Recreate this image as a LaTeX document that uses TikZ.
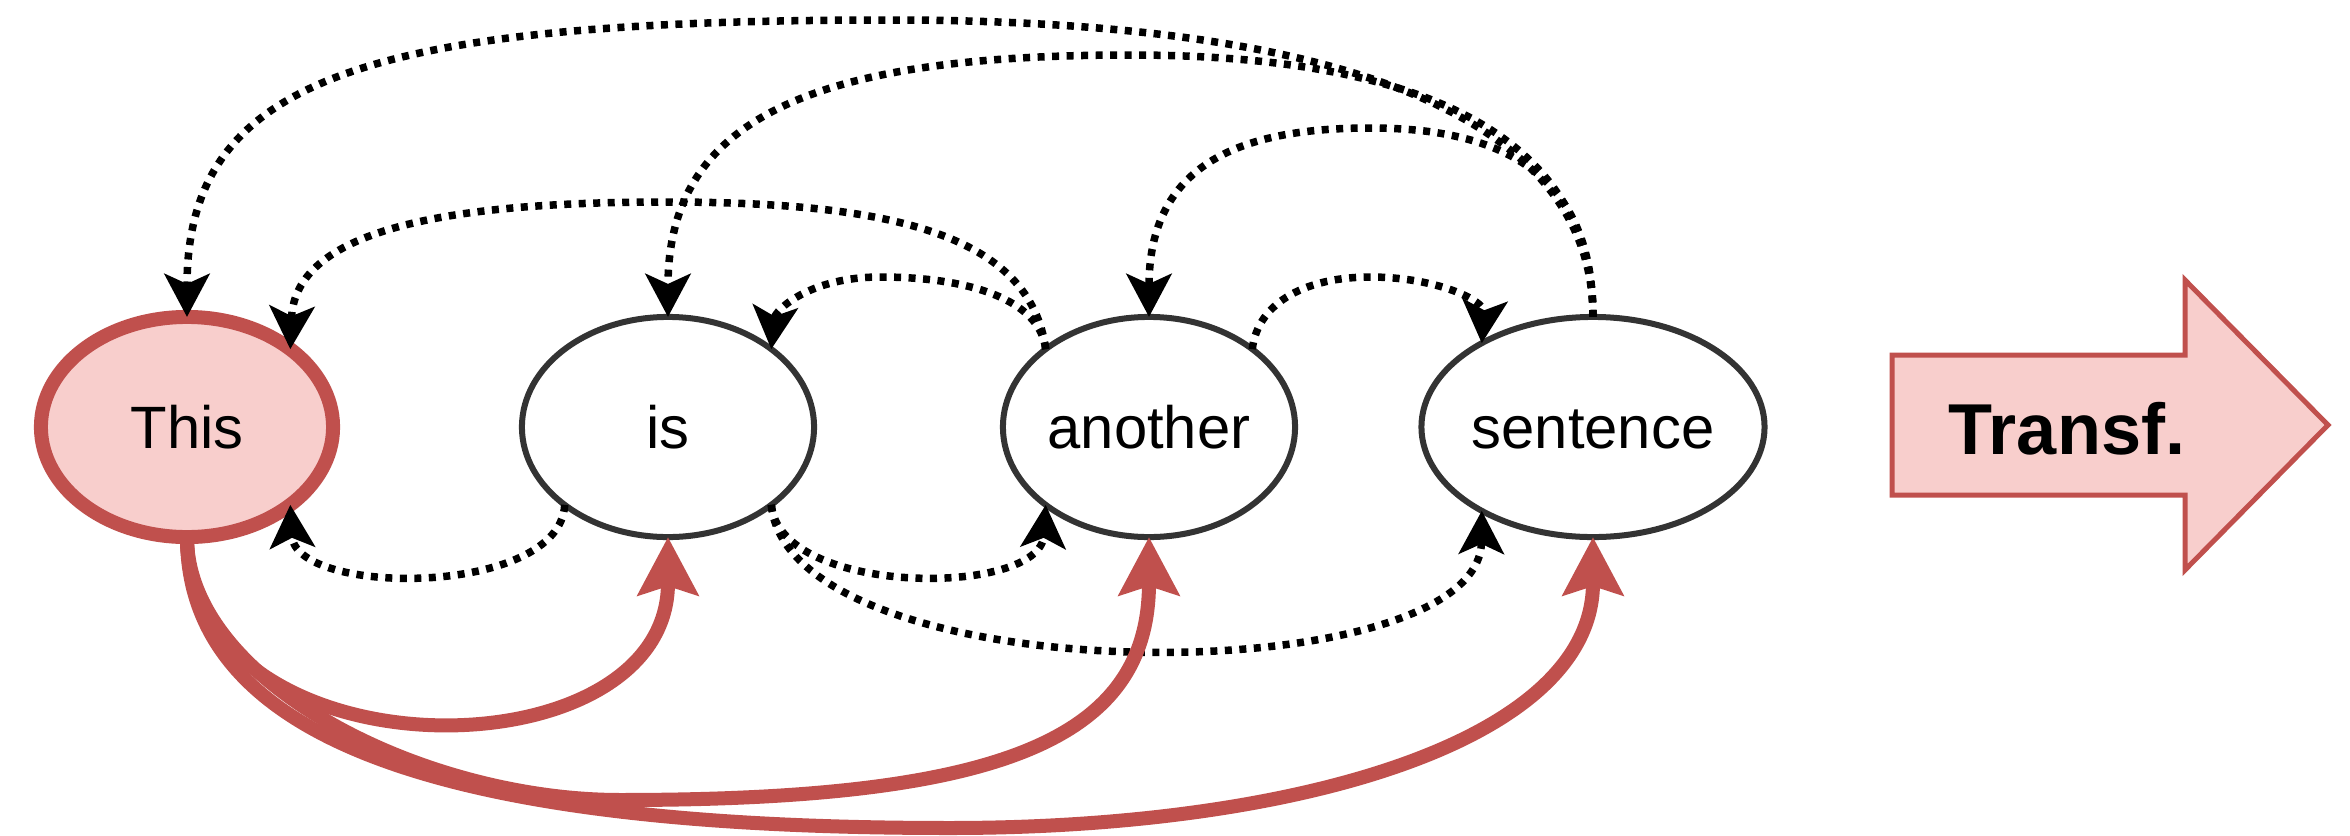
\documentclass[tikz,border=0pt]{standalone}
\usepackage{fontspec}
\setmainfont{Liberation Sans}
\usetikzlibrary{arrows.meta,shapes.geometric}
\definecolor{redline}{HTML}{C0504D}
\definecolor{pinkfill}{HTML}{F8CECC}
\definecolor{darkline}{HTML}{333333}

\begin{document}
\begin{tikzpicture}[x=0.01cm,y=-0.01cm,
  word/.style={ellipse, draw=darkline, line width=0.06cm, fill=white,
    minimum width=2.92cm, minimum height=2.2cm, inner sep=0pt, outer sep=0pt,
    font=\fontsize{17}{20}\selectfont, text height=0.43cm, text depth=0cm},
  focus/.style={word, draw=redline, fill=pinkfill, line width=0.14cm},
  attn/.style={draw=black, line width=0.075cm, line cap=butt,
    dash pattern=on 0.07cm off 0.075cm,
    -{Stealth[length=0.43cm, width=0.45cm, inset=0.1cm]}},
  flow/.style={draw=redline, line width=0.14cm,
    -{Stealth[length=0.58cm, width=0.6cm, inset=0.09cm]}},
  bigarrow/.style={draw=redline, fill=pinkfill, line width=0.05cm},
]
\useasboundingbox (0,0) rectangle (2350,836);

% the sentence tokens
\node[focus] (this) at (187,427) {This};
\node[word] (is) at (668,427) {is};
\node[word] (another) at (1149,427) {another};
\node[word] (sentence) at (1593,427) {sentence};

% attention links above the row
\draw[attn] (sentence.north) .. controls (1593,100) and (1300,20) .. (890,20)
  .. controls (363,20) and (187,79) .. (this.north);
\draw[attn] (sentence.north) .. controls (1593,110) and (1370,55) .. (1130,55)
  .. controls (807,55) and (668,121) .. (is.north);
\draw[attn] (sentence.north) .. controls (1593,175) and (1504,128) .. (1370,128)
  .. controls (1237,128) and (1149,166) .. (another.north);
\draw[attn] (another.143) .. controls (1030,235) and (893,202) .. (666,202)
  .. controls (442,202) and (295,231) .. (this.37);
\draw[attn] (another.143) .. controls (1040,300) and (970,277) .. (880,277)
  .. controls (810,277) and (775,310) .. (is.37);
\draw[attn] (another.37) .. controls (1258,300) and (1310,277) .. (1370,277)
  .. controls (1435,277) and (1485,300) .. (sentence.143);

% attention links below the row
\draw[attn] (is.217) .. controls (560,597) and (295,597) .. (this.323);
\draw[attn] (is.323) .. controls (780,597) and (1040,597) .. (another.217);
\draw[attn] (is.323) .. controls (790,695) and (1480,695) .. (sentence.217);

% links from the focused token
\draw[flow] (this.south) .. controls (187,780) and (668,780) .. (is.south);
\draw[flow] (this.south) .. controls (187,680) and (420,800) .. (620,800)
  .. controls (1000,800) and (1149,740) .. (another.south);
\draw[flow] (this.south) .. controls (187,760) and (500,828) .. (950,828)
  .. controls (1300,828) and (1593,740) .. (sentence.south);

% transformer block arrow
\draw[bigarrow] (1892,355) -- (2185,355) -- (2185,280) -- (2328,425)
  -- (2185,570) -- (2185,495) -- (1892,495) -- cycle;
\node[font=\bfseries\fontsize{20.5}{24}\selectfont, text height=0.52cm, text depth=0cm]
  (transf) at (2067,428) {Transf.};
\end{tikzpicture}
\end{document}
